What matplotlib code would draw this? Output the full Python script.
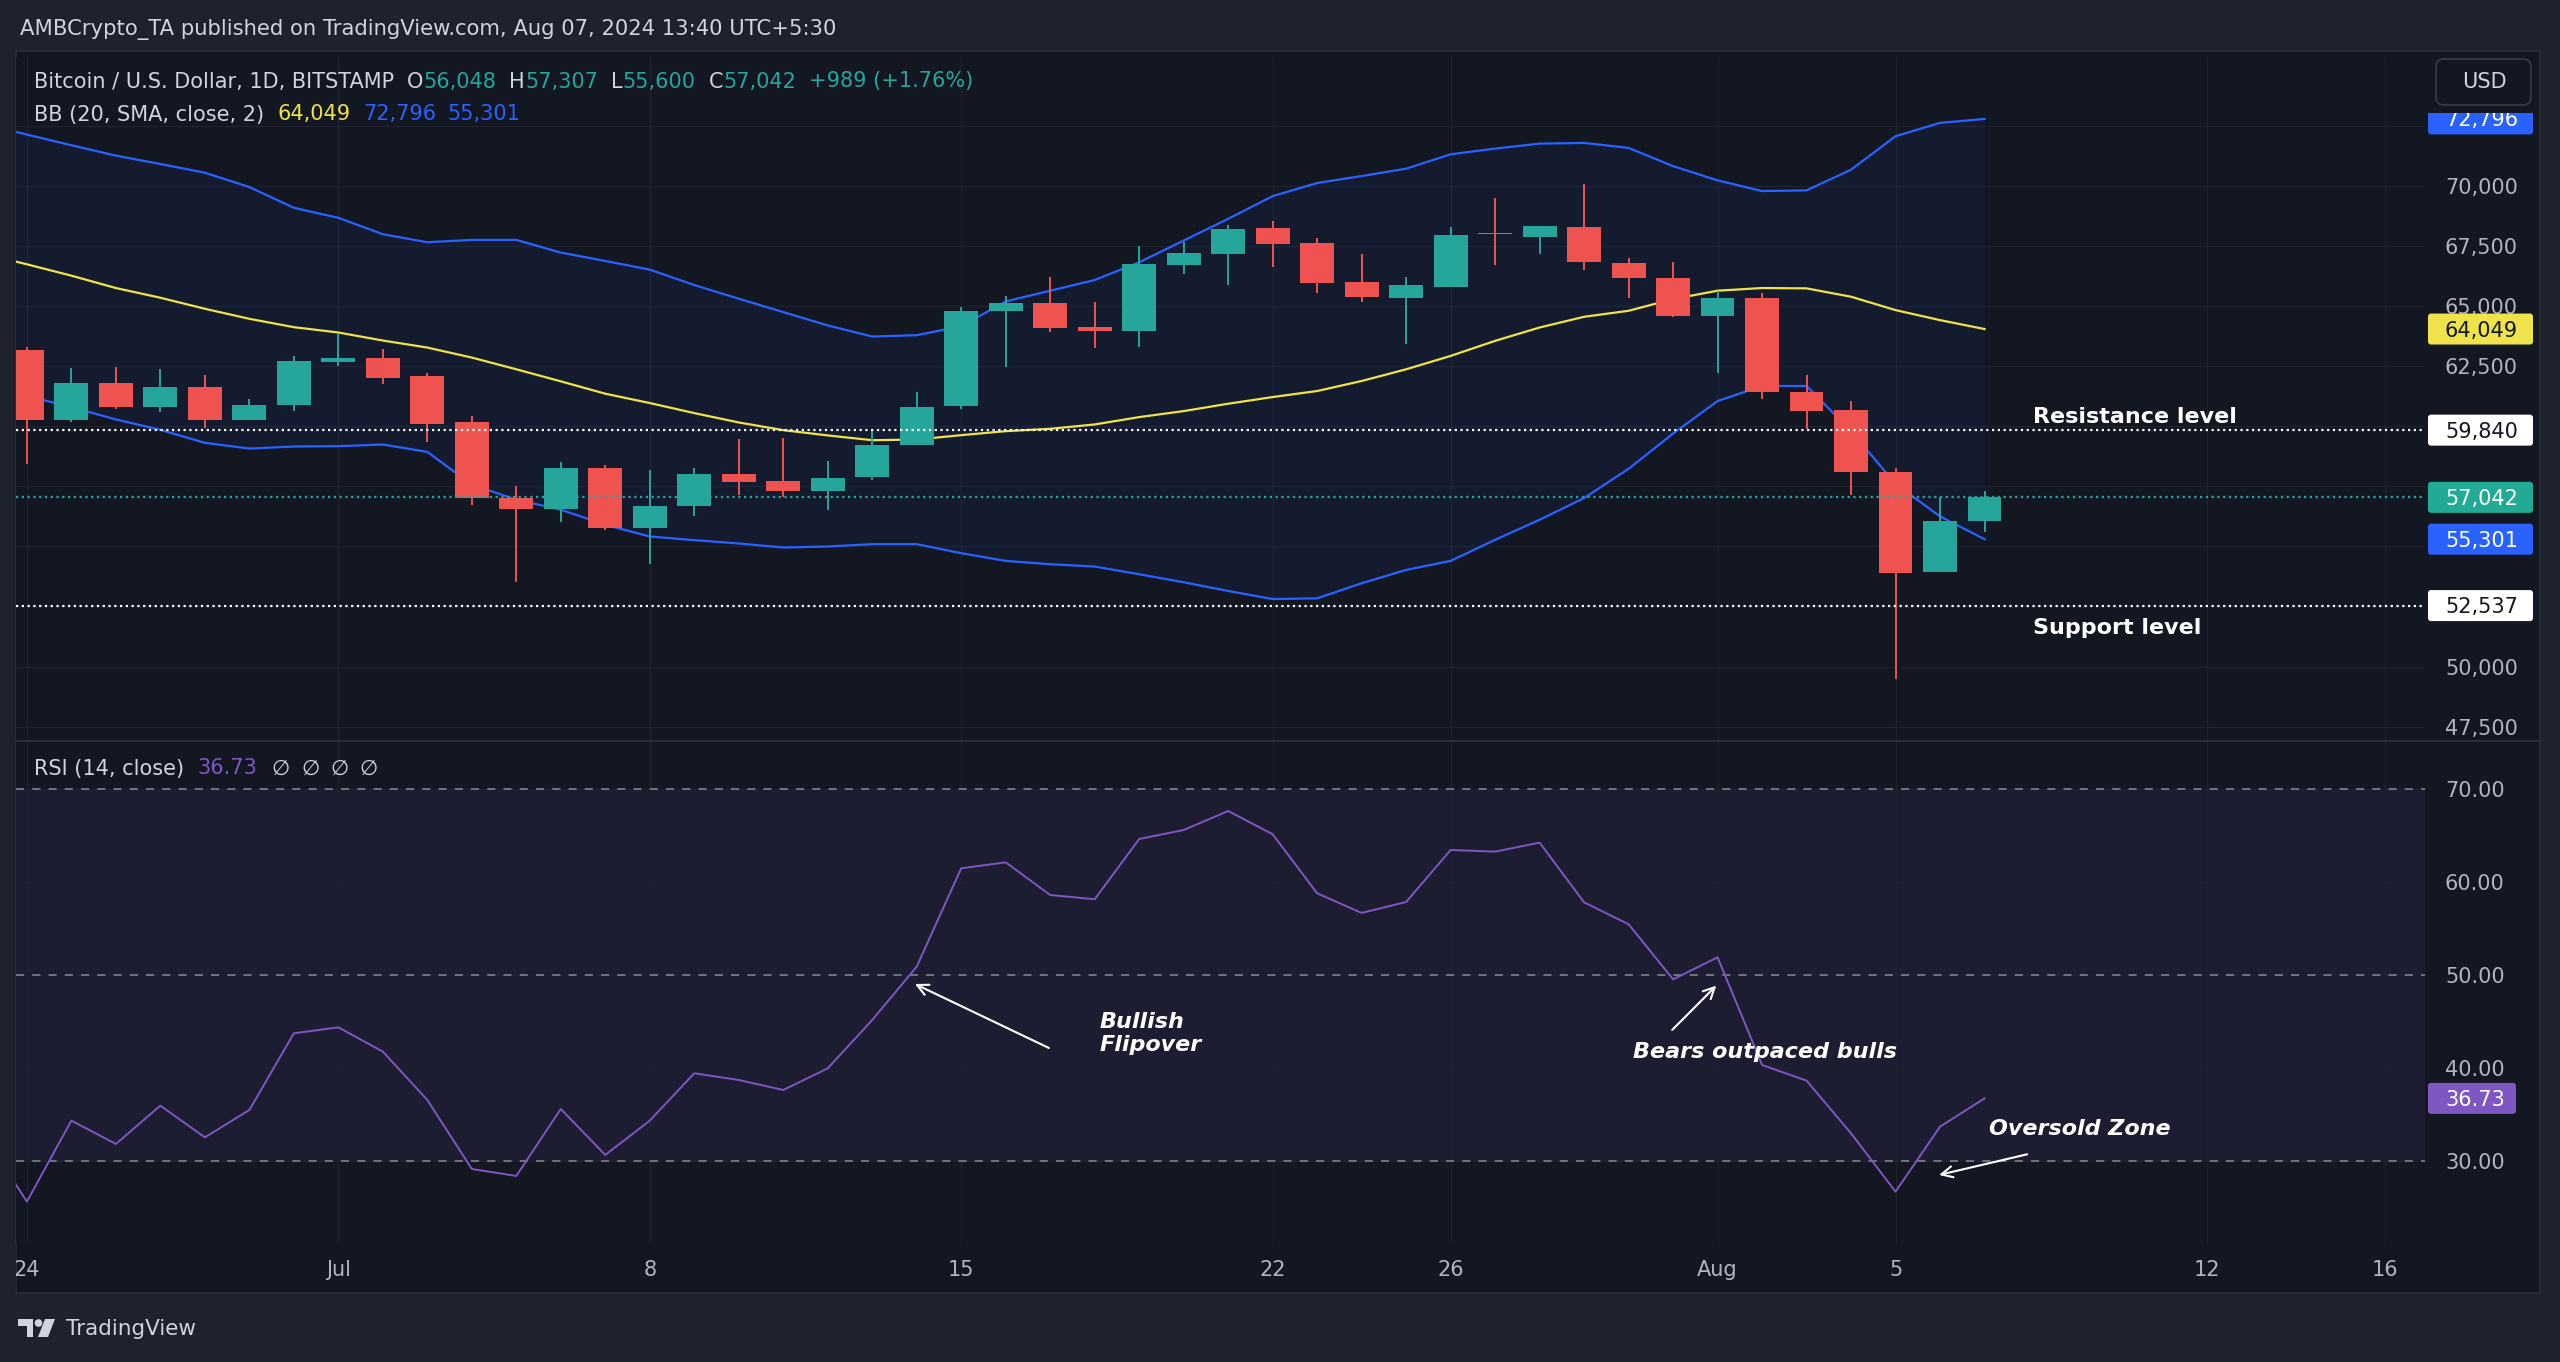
#!/usr/bin/env python3
"""BTC/USD daily candles with Bollinger Bands and RSI, drawn in TradingView dark style."""

import numpy as np
import matplotlib

matplotlib.use("Agg")
import matplotlib.pyplot as plt
import matplotlib.dates as mdates
import matplotlib.transforms as mtransforms
from matplotlib.patches import Rectangle, FancyBboxPatch, Polygon, Circle

W, H = 2560, 1362

# daily candles, BITSTAMP, 2024-06-24 .. 2024-08-07
candle_days = np.arange("2024-06-24", "2024-08-08", dtype="datetime64[D]")
opens = [63181, 60244, 61803, 60787, 61650, 60272, 60870, 62680, 62860, 62080,
         60188, 57028, 56569, 58253, 55761, 56666, 58017, 57710, 57320, 57877,
         59213, 60828, 64782, 65116, 64127, 63974, 66730, 67162, 68248, 67635,
         65993, 65352, 65784, 68039, 67872, 68317, 66812, 66188, 64589, 65340,
         61439, 60687, 58113, 53940, 56048]
highs = [63320, 62443, 62485, 62373, 62150, 61135, 62930, 63835, 63208, 62220,
         60425, 57502, 58504, 58406, 58170, 58267, 59478, 59520, 58545, 59868,
         61441, 64949, 65408, 66201, 65158, 67524, 67691, 68401, 68540, 67844,
         67176, 66201, 68289, 69515, 68359, 70071, 67019, 66860, 65628, 65548,
         62143, 61071, 58273, 57040, 57307]
lows = [58448, 60200, 60703, 60590, 59937, 60272, 60620, 62500, 61775, 59339,
        56708, 53506, 56012, 55692, 54272, 56249, 57153, 57056, 56527, 57780,
        59213, 60703, 62471, 63932, 63278, 63320, 66341, 65895, 66619, 65533,
        65157, 63445, 65784, 66717, 67176, 66508, 65356, 64557, 62222, 61151,
        59872, 57154, 49478, 53940, 55600]
closes = [60244, 61789, 60787, 61650, 60272, 60898, 62707, 62860, 62012, 60105,
          57000, 56569, 58253, 55761, 56666, 58017, 57668, 57320, 57850, 59241,
          60814, 64810, 65116, 64086, 63974, 66772, 67204, 68234, 67594, 65951,
          65394, 65867, 67983, 67990, 68345, 66828, 66188, 64589, 65340, 61423,
          60640, 58081, 53908, 56053, 57042]

# indicator values start one day earlier so the lines reach the left edge
line_days = np.arange("2024-06-23", "2024-08-08", dtype="datetime64[D]")
bb_upper = [72600, 72145, 71700, 71268, 70920, 70558, 69960, 69097, 68679, 67997,
            67663, 67760, 67760, 67232, 66884, 66522, 65881, 65311, 64754, 64200,
            63738, 63793, 64166, 65199, 65645, 66090, 66828, 67733, 68637, 69584,
            70127, 70419, 70725, 71324, 71561, 71769, 71797, 71588, 70830, 70238,
            69793, 69821, 70684, 72076, 72632, 72796]
bb_basis = [67200, 66744, 66271, 65756, 65352, 64893, 64475, 64127, 63905, 63571,
            63278, 62861, 62373, 61872, 61357, 60968, 60550, 60160, 59840, 59620,
            59422, 59450, 59631, 59798, 59896, 60077, 60383, 60633, 60940, 61218,
            61469, 61886, 62373, 62930, 63557, 64113, 64559, 64809, 65297, 65645,
            65756, 65742, 65394, 64837, 64420, 64049]
bb_lower = [61700, 61260, 60800, 60285, 59854, 59311, 59074, 59158, 59172, 59241,
            58935, 57571, 56945, 56527, 55901, 55413, 55260, 55121, 54954, 54996,
            55093, 55093, 54717, 54397, 54258, 54161, 53841, 53506, 53144, 52810,
            52838, 53465, 54021, 54397, 55274, 56109, 57014, 58230, 59700, 61051,
            61677, 61677, 59800, 57600, 56249, 55301]
rsi = [33.0, 25.63, 34.34, 31.83, 35.95, 32.54, 35.48, 43.73, 44.37, 41.76,
       36.56, 29.14, 28.39, 35.59, 30.65, 34.34, 39.43, 38.71, 37.63, 39.96,
       45.16, 50.90, 61.47, 62.11, 58.60, 58.14, 64.62, 65.59, 67.63, 65.13,
       58.78, 56.67, 57.85, 63.44, 63.26, 64.23, 57.81, 55.45, 49.53, 51.90,
       40.32, 38.64, 32.97, 26.70, 33.69, 36.73]

tick_days = np.array(["2024-06-24", "2024-07-01", "2024-07-08", "2024-07-15",
                      "2024-07-22", "2024-07-26", "2024-08-01", "2024-08-05",
                      "2024-08-12", "2024-08-16"], dtype="datetime64[D]")
tick_labels = ["24", "Jul", "8", "15", "22", "26", "Aug", "5", "12", "16"]
price_ticks = [47500, 50000, 52500, 55000, 57500, 60000, 62500, 65000, 67500, 70000, 72500]
rsi_ticks = [30, 40, 50, 60, 70]
rsi_levels = [30, 50, 70]

resistance = 59840
support = 52537

# colours
OUTER_BG = "#1e222d"
CHART_BG = "#131722"
FRAME = "#2a2e39"
GRID = "#1d2130"
TXT = "#d1d4dc"
AXIS_TXT = "#b2b5be"
UP = "#26a69a"
DOWN = "#ef5350"
BLUE = "#2962ff"
YELLOW = "#f0e24a"
PURPLE = "#7e57c2"
TAG_GREEN = "#22ab94"

plt.rcParams["font.family"] = ["DejaVu Sans"]

fig = plt.figure(figsize=(W / 100, H / 100), dpi=100, facecolor=OUTER_BG)
px = mtransforms.Affine2D().scale(1 / W, -1 / H).translate(0, 1) + fig.transFigure
fig.add_artist(Rectangle((16, 51), 2524, 1242, transform=px, facecolor=CHART_BG,
                         edgecolor=FRAME, lw=1.2, zorder=-1))


def px_axes(left, top, right, bottom, **kw):
    return fig.add_axes([left / W, 1 - bottom / H, (right - left) / W, (bottom - top) / H], **kw)


ax_p = px_axes(16, 57, 2425, 740, facecolor=CHART_BG)
ax_r = px_axes(16, 742, 2425, 1243, facecolor=CHART_BG)
ov = fig.add_axes([0, 0, 1, 1], zorder=10)
ov.set_xlim(0, W)
ov.set_ylim(H, 0)
ov.axis("off")

cx = mdates.date2num(candle_days)
lx = mdates.date2num(line_days)
day0 = cx[0]
o, hi, lo, c = (np.array(v, dtype=float) for v in (opens, highs, lows, closes))
cols = [UP if cc >= oo else DOWN for oo, cc in zip(o, c)]

for ax in (ax_p, ax_r):
    ax.set_xlim(day0 - 0.245, day0 + 53.9)
    ax.set_xticks(mdates.date2num(tick_days))
    ax.grid(True, color=GRID, lw=1.0)
    ax.set_axisbelow(True)
    for sp in ax.spines.values():
        sp.set_visible(False)
    ax.yaxis.tick_right()
    ax.tick_params(axis="both", length=0, labelsize=15, labelcolor=AXIS_TXT)
    ax.tick_params(axis="y", pad=14.4)

# price labels on the scale; the ones sitting under a value tag are hidden by it
tag_values = [bb_upper[-1], bb_basis[-1], resistance, closes[-1], bb_lower[-1], support]
price_labels = ["" if min(abs(v - t) for t in tag_values) < 700 else "{:,}".format(v)
                for v in price_ticks]

# --- price pane ---
ax_p.set_ylim(46941, 75374)
ax_p.set_yticks(price_ticks)
ax_p.set_yticklabels(price_labels)
ax_p.tick_params(axis="x", labelbottom=False)

ax_p.fill_between(lx, bb_lower, bb_upper, color=BLUE, alpha=0.06, lw=0, zorder=1)
ax_p.plot(lx, bb_upper, color=BLUE, lw=1.6, zorder=2)
ax_p.plot(lx, bb_lower, color=BLUE, lw=1.6, zorder=2)
ax_p.plot(lx, bb_basis, color=YELLOW, lw=1.6, zorder=2)

ax_p.vlines(cx, lo, hi, colors=cols, lw=1.4, zorder=3)
ax_p.bar(cx, np.maximum(np.abs(c - o), 45), bottom=np.minimum(o, c), width=0.76,
         color=cols, lw=0, zorder=4)

ax_p.axhline(resistance, color="white", ls=(0, (1, 1.6)), lw=1.6, zorder=5)
ax_p.axhline(support, color="white", ls=(0, (1, 1.6)), lw=1.6, zorder=5)
ax_p.axhline(closes[-1], color=UP, ls=(0, (1, 1.6)), lw=1.6, zorder=5)

ax_p.text(day0 + 45.1, 60387, "Resistance level", color="white", fontsize=16,
          fontweight="bold", ha="left", va="center", zorder=6)
ax_p.text(day0 + 45.1, 51624, "Support level", color="white", fontsize=16,
          fontweight="bold", ha="left", va="center", zorder=6)

# --- RSI pane ---
ax_r.set_ylim(21.18, 75.05)
ax_r.set_yticks(rsi_ticks)
ax_r.set_yticklabels(["{:.2f}".format(v) for v in rsi_ticks])
ax_r.set_xticklabels(tick_labels)
ax_r.tick_params(axis="x", pad=12)
ax_r.axhspan(30, 70, color=PURPLE, alpha=0.1, lw=0, zorder=0.5)
for lvl in rsi_levels:
    ax_r.axhline(lvl, color="#787b86", ls=(0, (4.5, 4.5)), lw=1.3, zorder=1)
ax_r.plot(lx, rsi, color=PURPLE, lw=1.4, zorder=3)

note = dict(color="white", fontsize=16, fontweight="bold", fontstyle="italic",
            ha="left", va="center", zorder=6)
arrow = dict(arrowstyle="->,head_length=0.8,head_width=0.4", color="white", lw=1.5,
             shrinkA=0, shrinkB=0)
ax_r.text(day0 + 24.1, 43.7, "Bullish\nFlipover", **note)
ax_r.annotate("", xy=(day0 + 19.96, 49.03), xytext=(day0 + 22.97, 42.15), arrowprops=arrow)
ax_r.text(day0 + 36.11, 41.76, "Bears outpaced bulls", **note)
ax_r.annotate("", xy=(day0 + 37.97, 48.85), xytext=(day0 + 36.98, 44.09), arrowprops=arrow)
ax_r.text(day0 + 44.11, 33.4, "Oversold Zone", **note)
ax_r.annotate("", xy=(day0 + 42.98, 28.5), xytext=(day0 + 44.96, 30.72), arrowprops=arrow)

# --- overlay: tags, legends, frame decorations ---
renderer = fig.canvas.get_renderer()


def to_px(ax, value):
    return H - ax.transData.transform((ax.get_xlim()[0], value))[1]


def tag(ax, value, text, face, ink, width=105):
    y = to_px(ax, value)
    ov.add_patch(FancyBboxPatch((2428, y - 15.5), width, 31, boxstyle="round,pad=0,rounding_size=3",
                                facecolor=face, edgecolor="none", zorder=4))
    ov.text(2445, y + 7.5, text, color=ink, fontsize=15, ha="left", va="baseline", zorder=5)


def segments(x, y, parts, size=15):
    for text, color, gap in parts:
        t = ov.text(x, y, text, color=color, fontsize=size, ha="left", va="baseline", zorder=5)
        x += t.get_window_extent(renderer).width + gap


tag(ax_p, bb_upper[-1], "{:,}".format(bb_upper[-1]), BLUE, "white")
tag(ax_p, bb_basis[-1], "{:,}".format(bb_basis[-1]), YELLOW, "#131722")
tag(ax_p, resistance, "{:,}".format(resistance), "white", "#131722")
tag(ax_p, closes[-1], "{:,}".format(closes[-1]), TAG_GREEN, "white")
tag(ax_p, bb_lower[-1], "{:,}".format(bb_lower[-1]), BLUE, "white")
tag(ax_p, support, "{:,}".format(support), "white", "#131722")
tag(ax_r, rsi[-1], "{:.2f}".format(rsi[-1]), PURPLE, "white", width=88)

# USD button sits over the top of the price scale
ov.add_patch(Rectangle((2426, 52), 112, 61, facecolor=CHART_BG, edgecolor="none", zorder=6))
ov.add_patch(FancyBboxPatch((2436, 59), 95, 46, boxstyle="round,pad=0,rounding_size=8",
                            facecolor=CHART_BG, edgecolor="#363a45", lw=1.3, zorder=7))
ov.text(2484, 82, "USD", color=TXT, fontsize=15, ha="center", va="center", zorder=8)

# pane separators and left clip of the first date label
ov.plot([16, 2540], [741, 741], color=FRAME, lw=1.5, zorder=3)
ov.add_patch(Rectangle((0, 1246), 16, 46, facecolor=OUTER_BG, edgecolor="none", zorder=3))

ov.text(20, 35, "AMBCrypto_TA published on TradingView.com, Aug 07, 2024 13:40 UTC+5:30",
        color=TXT, fontsize=15.2, ha="left", va="baseline")

chg = closes[-1] - closes[-2]
segments(34, 87.5, [
    ("Bitcoin / U.S. Dollar, 1D, BITSTAMP", TXT, 13),
    ("O", TXT, 0), ("{:,}".format(opens[-1]), UP, 13),
    ("H", TXT, 0), ("{:,}".format(highs[-1]), UP, 13),
    ("L", TXT, 0), ("{:,}".format(lows[-1]), UP, 13),
    ("C", TXT, 0), ("{:,}".format(closes[-1]), UP, 13),
    ("{:+,} ({:+.2f}%)".format(chg, chg / closes[-2] * 100), UP, 0),
])
segments(34, 120.5, [
    ("BB (20, SMA, close, 2)", TXT, 13),
    ("{:,}".format(bb_basis[-1]), YELLOW, 13),
    ("{:,}".format(bb_upper[-1]), BLUE, 11),
    ("{:,}".format(bb_lower[-1]), BLUE, 0),
])
segments(34, 774.5, [
    ("RSI (14, close)", TXT, 13),
    ("{:.2f}".format(rsi[-1]), PURPLE, 15),
    ("\u2205", TXT, 11), ("\u2205", TXT, 11), ("\u2205", TXT, 11), ("\u2205", TXT, 0),
])

# TradingView mark + wordmark
logo = "#d1d4dc"
ov.add_patch(Polygon([(18, 1319), (33, 1319), (33, 1337), (27, 1337), (27, 1326), (18, 1326)],
                     closed=True, facecolor=logo, edgecolor="none"))
ov.add_patch(Circle((38.5, 1323), 3.8, facecolor=logo, edgecolor="none"))
ov.add_patch(Polygon([(45, 1319), (55, 1319), (48, 1337), (38, 1337)],
                     closed=True, facecolor=logo, edgecolor="none"))
ov.text(66, 1335, "TradingView", color=logo, fontsize=15.5, ha="left", va="baseline")

fig.savefig("out.png", dpi=100, facecolor=OUTER_BG)
